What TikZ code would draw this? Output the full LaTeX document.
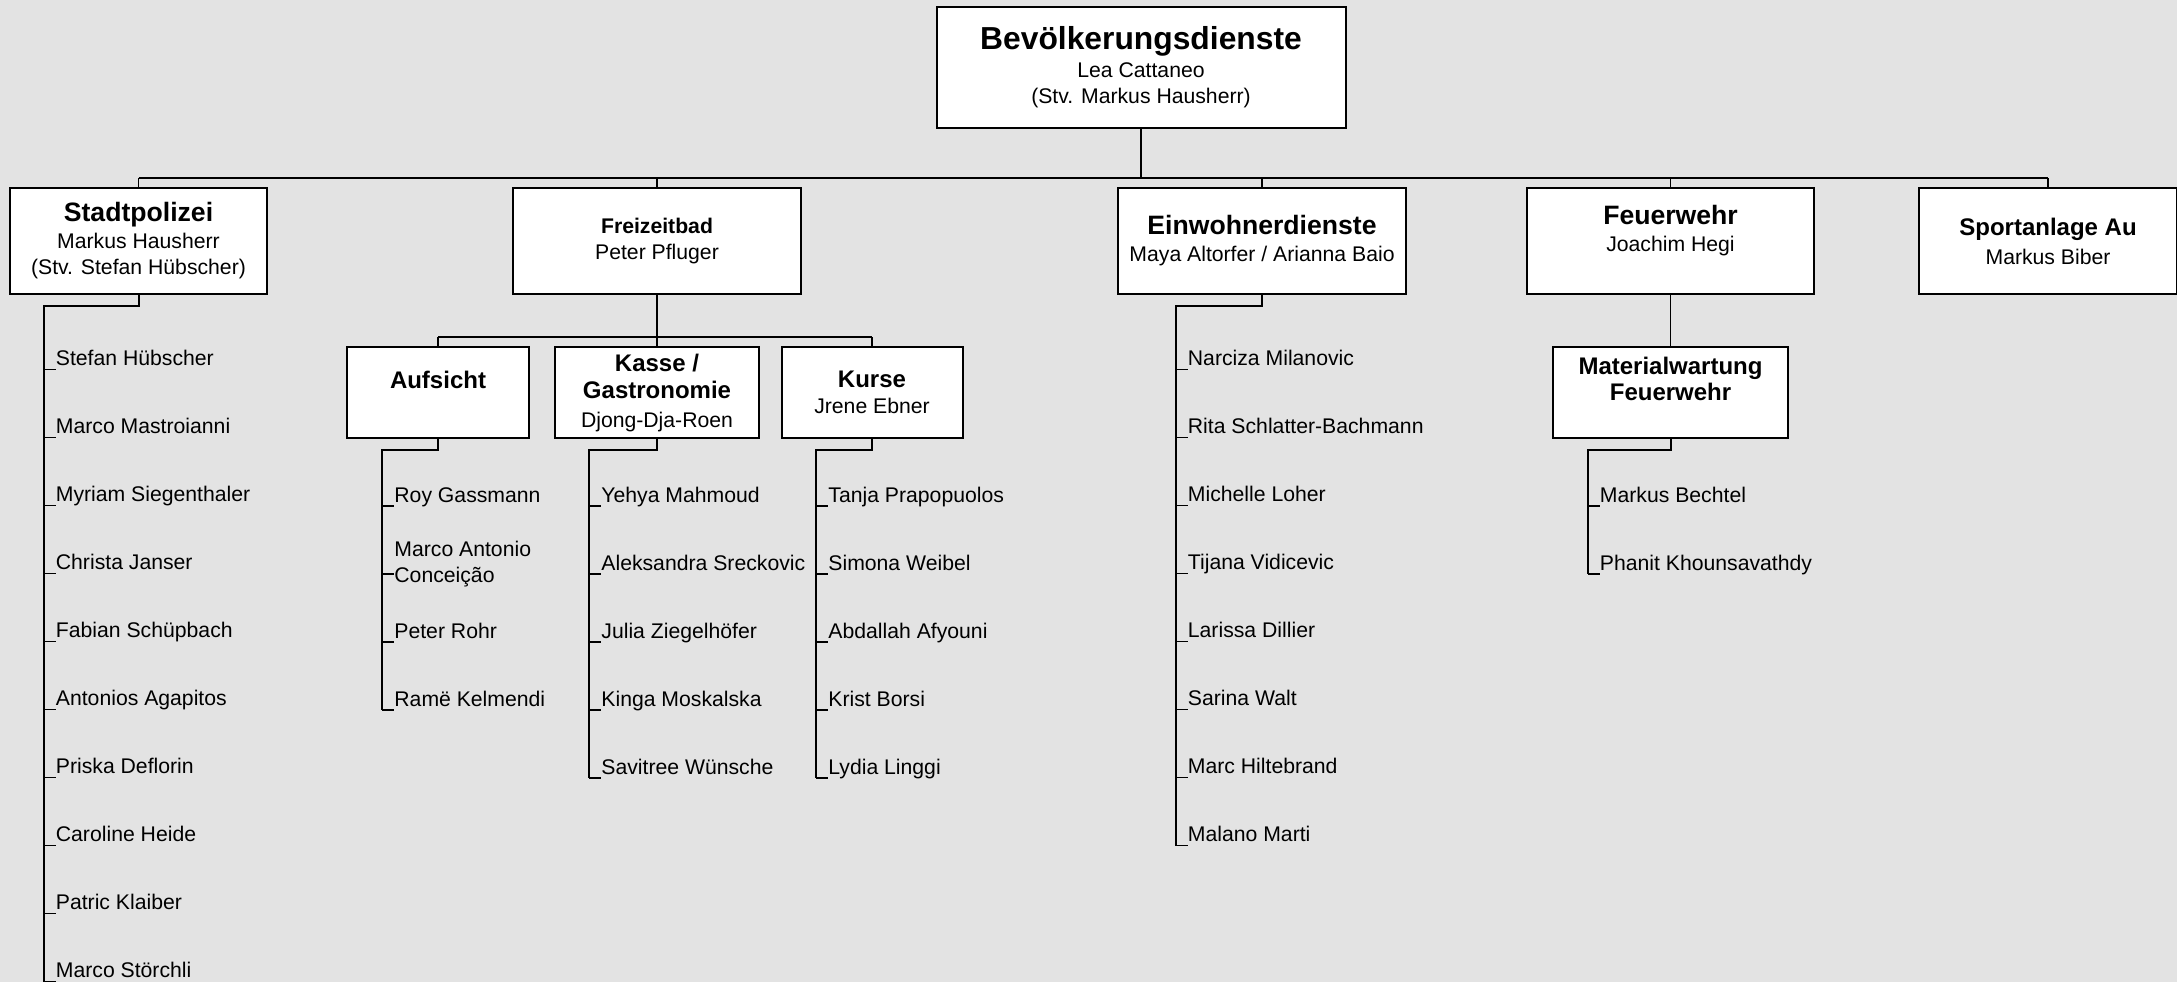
\documentclass[tikz,border=0pt]{standalone}
\usepackage{fontspec}
\setmainfont{Liberation Sans}
\usepackage{tikz}
\usetikzlibrary{positioning,calc}

\definecolor{bggray}{RGB}{227,227,227}
\newcommand{\namefont}{\fontsize{10.6}{13}\selectfont}
\newcommand{\headfont}{\fontsize{13.3}{14}\selectfont\bfseries}
\newcommand{\subfont}{\fontsize{12}{14}\selectfont\bfseries}

\tikzset{
  unit/.style={draw, fill=white, line width=1pt, inner sep=0pt, align=center, font=\namefont, minimum height=53pt},
  subunit/.style={unit, minimum height=45.5pt},
  staff/.style={inner sep=0pt, anchor=base west, font=\namefont},
  bus/.style={line width=1.3pt},
  link/.style={line width=0.7pt},
  spine/.style={line width=1pt},
  tick/.style={line width=0.8pt},
}

\begin{document}
\begin{tikzpicture}[x=0.5pt,y=-0.5pt]
\fill[bggray] (0,0) rectangle (2177,982);
\useasboundingbox (0,0) rectangle (2177,982);

\node[unit, minimum width=204.5pt, minimum height=60.5pt] (top) at (1141,67.5)
  {{\fontsize{15.9}{16}\selectfont\bfseries Bevölkerungsdienste}\\[1pt] Lea Cattaneo\\ (Stv. Markus Hausherr)};

\node[unit, minimum width=128.5pt] (stadt) at (138.5,241) {{\headfont Stadtpolizei}\\[0.5pt] Markus Hausherr\\ (Stv. Stefan Hübscher)};
\node[unit, minimum width=144pt] (frei) at (657,241) {\textbf{Freizeitbad}\\ Peter Pfluger};
\node[unit, minimum width=144pt] (einw) at (1262,241) {{\headfont Einwohnerdienste}\\[0.5pt] Maya Altorfer / Arianna Baio};
\node[unit, minimum width=143.5pt] (feuer) at (1670.5,241) {{\headfont Feuerwehr}\\[0.5pt] Joachim Hegi\\ \mbox{}};
\node[unit, minimum width=129pt] (sport) at (2048,241) {{\subfont Sportanlage Au}\\[1.5pt] Markus Biber};

\draw[bus] (top.south) -- ++(0,49) coordinate (bus);
\draw[bus] (stadt.north |- bus) -- (sport.north |- bus);
\foreach \u in {stadt,frei,einw,feuer,sport}
  \draw[link] (\u.north |- bus) -- (\u.north);

\node[subunit, minimum width=91pt] (aufs) at (438,392.5) {{\subfont Aufsicht}\\ \mbox{}};
\node[subunit, minimum width=102pt] (kasse) at (657,392.5) {{\subfont Kasse /}\\[0.5pt] {\subfont Gastronomie}\\[1.5pt] Djong-Dja-Roen};
\node[subunit, minimum width=90.5pt] (kurse) at (872,392.5) {{\subfont Kurse}\\ Jrene Ebner};
\node[subunit, minimum width=117.5pt] (mat) at (1670.5,392.5) {{\subfont Materialwartung}\\ {\subfont Feuerwehr}\\[1pt] \mbox{}};

\draw[bus] (frei.south) -- ++(0,42) coordinate (subbus);
\draw[bus] (aufs.north |- subbus) -- (kurse.north |- subbus);
\foreach \u in {aufs,kasse,kurse}
  \draw[link] (\u.north |- subbus) -- (\u.north);
\draw[link] (feuer) -- (mat);

\foreach \n [count=\i from 0] in {Stefan Hübscher, Marco Mastroianni, Myriam Siegenthaler, Christa Janser, Fabian Schüpbach, Antonios Agapitos, Priska Deflorin, Caroline Heide, Patric Klaiber, Marco Störchli}
  \node[staff] (sp\i) at (55.5,{365.5+68*\i}) {\n};
\draw[spine] (stadt.south) -- ++(0,11) -| ($(sp9.base west)+(-12,4)$);
\foreach \i in {0,...,9}
  \draw[tick] ($(sp\i.base west)+(-12,4)$) -- ($(sp\i.base west)+(0,4)$);

\foreach \n [count=\i from 0] in {Roy Gassmann, {\begin{tabular}[c]{@{}l@{}}Marco Antonio\\Conceição\end{tabular}}, Peter Rohr, Ramë Kelmendi}
  \node[staff] (au\i) at (394,{502+68*\i}) {\n};
\draw[spine] (aufs.south) -- ++(0,11) -| ($(au3.base west)+(-12,4)$);
\foreach \i in {0,...,3}
  \draw[tick] ($(au\i.base west)+(-12,4)$) -- ($(au\i.base west)+(0,4)$);

\foreach \n [count=\i from 0] in {Yehya Mahmoud, Aleksandra Sreckovic, Julia Ziegelhöfer, Kinga Moskalska, Savitree Wünsche}
  \node[staff] (ka\i) at (601,{502+68*\i}) {\n};
\draw[spine] (kasse.south) -- ++(0,11) -| ($(ka4.base west)+(-12,4)$);
\foreach \i in {0,...,4}
  \draw[tick] ($(ka\i.base west)+(-12,4)$) -- ($(ka\i.base west)+(0,4)$);

\foreach \n [count=\i from 0] in {Tanja Prapopuolos, Simona Weibel, Abdallah Afyouni, Krist Borsi, Lydia Linggi}
  \node[staff] (ku\i) at (828,{502+68*\i}) {\n};
\draw[spine] (kurse.south) -- ++(0,11) -| ($(ku4.base west)+(-12,4)$);
\foreach \i in {0,...,4}
  \draw[tick] ($(ku\i.base west)+(-12,4)$) -- ($(ku\i.base west)+(0,4)$);

\foreach \n [count=\i from 0] in {Narciza Milanovic, Rita Schlatter-Bachmann, Michelle Loher, Tijana Vidicevic, Larissa Dillier, Sarina Walt, Marc Hiltebrand, Malano Marti}
  \node[staff] (ew\i) at (1187.5,{365.5+68*\i}) {\n};
\draw[spine] (einw.south) -- ++(0,11) -| ($(ew7.base west)+(-12,4)$);
\foreach \i in {0,...,7}
  \draw[tick] ($(ew\i.base west)+(-12,4)$) -- ($(ew\i.base west)+(0,4)$);

\foreach \n [count=\i from 0] in {Markus Bechtel, Phanit Khounsavathdy}
  \node[staff] (mw\i) at (1599.5,{502+68*\i}) {\n};
\draw[spine] (mat.south) -- ++(0,11) -| ($(mw1.base west)+(-12,4)$);
\foreach \i in {0,1}
  \draw[tick] ($(mw\i.base west)+(-12,4)$) -- ($(mw\i.base west)+(0,4)$);
\end{tikzpicture}
\end{document}
